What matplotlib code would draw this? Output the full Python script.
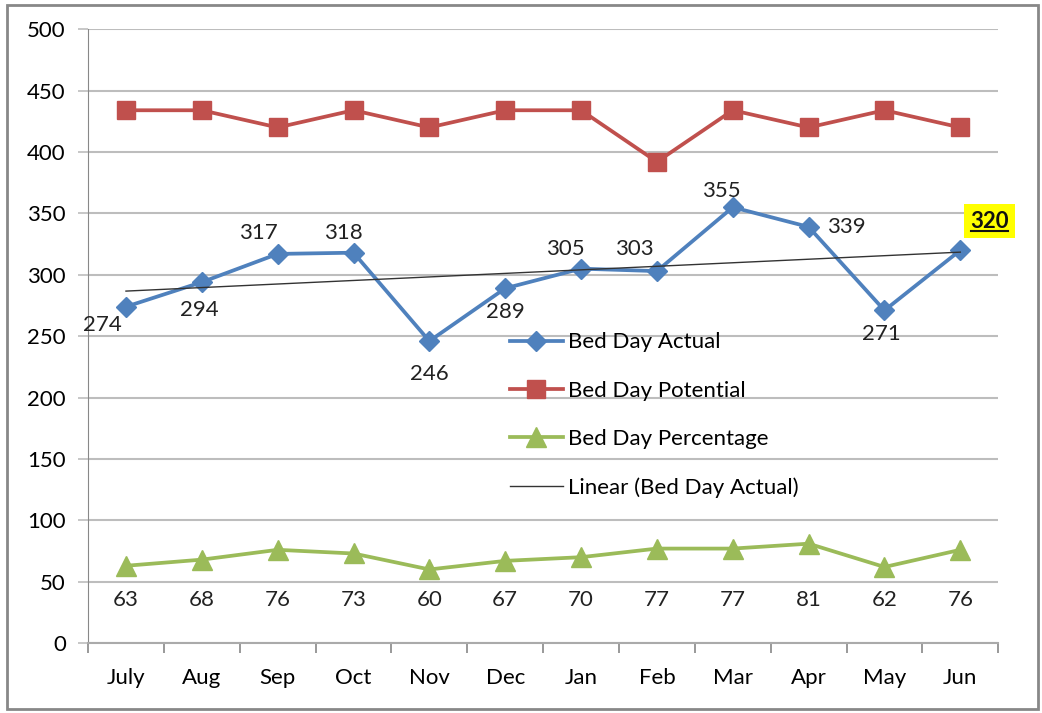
import numpy as np
import matplotlib
matplotlib.use("Agg")
import matplotlib.pyplot as plt
from matplotlib.lines import Line2D
from matplotlib.patches import Rectangle

plt.rcParams["font.family"] = ["Lato", "DejaVu Sans"]

months = ["July", "Aug", "Sep", "Oct", "Nov", "Dec",
          "Jan", "Feb", "Mar", "Apr", "May", "Jun"]
actual = [274, 294, 317, 318, 246, 289, 305, 303, 355, 339, 271, 320]
potential = [434, 434, 420, 434, 420, 434, 434, 392, 434, 420, 434, 420]
percentage = [63, 68, 76, 73, 60, 67, 70, 77, 77, 81, 62, 76]

# label offsets (points) for the actual series
actual_offsets = [(-17, -13), (-2, -20), (-14, 15), (-7, 14), (0, -24), (0, -17),
                  (-11, 14), (-16, 16), (-8, 12), (27, 0), (-2, -17), (21, 21)]

BLUE = "#4F81BD"
RED = "#C0504D"
GREEN = "#9BBB59"
GRID = "#BDBDBD"
FS = 16

fig = plt.figure(figsize=(10.42, 7.13), dpi=100)
ax = fig.add_axes([0.0845, 0.098, 0.8735, 0.861])

x = np.arange(len(months))

ax.plot(x, actual, color=BLUE, lw=2.7, marker="D", ms=10, label="Bed Day Actual", zorder=4)
ax.plot(x, potential, color=RED, lw=2.7, marker="s", ms=13, label="Bed Day Potential", zorder=4)
ax.plot(x, percentage, color=GREEN, lw=2.7, marker="^", ms=14, label="Bed Day Percentage", zorder=4)

# linear trend of actual
k, b = np.polyfit(x, actual, 1)
ax.plot(x, k * x + b, color="#333333", lw=1.0, label="Linear (Bed Day Actual)", zorder=5)

for i, v in enumerate(actual[:-1]):
    ax.annotate(str(v), (i, v), xytext=actual_offsets[i], textcoords="offset points",
                ha="center", va="center", fontsize=FS, color="#222222", zorder=6)

last = len(actual) - 1
t = ax.annotate(str(actual[last]), (last, actual[last]), xytext=actual_offsets[last],
                textcoords="offset points", ha="center", va="center", fontsize=FS,
                fontweight="bold", color="#111111", zorder=6,
                bbox=dict(boxstyle="square,pad=0.3", fc="#FFFF00", ec="none"))

for i, v in enumerate(percentage):
    ax.text(i, 35, str(v), ha="center", va="center", fontsize=FS, color="#222222")

ax.set_xlim(-0.5, len(months) - 0.5)
ax.set_ylim(0, 500)
ax.set_yticks(np.arange(0, 501, 50))
ax.set_xticks(x)
ax.set_xticklabels(months)
ax.set_xticks(np.arange(-0.5, len(months), 1), minor=True)
ax.tick_params(axis="x", which="major", length=0, pad=18, labelsize=FS)
ax.tick_params(axis="x", which="minor", length=7, width=1.2, color="#888888", direction="out")
ax.tick_params(axis="y", length=7, width=1.2, color=GRID, labelsize=FS, pad=9)
ax.yaxis.grid(True, color=GRID, lw=1.5)
ax.set_axisbelow(True)
for s in ["top", "right"]:
    ax.spines[s].set_visible(False)
ax.spines["left"].set_color("#888888")
ax.spines["bottom"].set_color("#AAAAAA")
ax.spines["bottom"].set_linewidth(1.5)

ax.legend(loc="upper left", bbox_to_anchor=(0.470, 0.562), bbox_transform=fig.transFigure,
          frameon=False, fontsize=FS, handlelength=2.4, labelspacing=1.27, handletextpad=0.2)

# frame around the picture
fig.add_artist(Rectangle((7 / 1042, 4 / 713), 1031 / 1042, 704 / 713, transform=fig.transFigure,
                         fill=False, ec="#888888", lw=2))

# underline for the highlighted last value
fig.canvas.draw()
bb = t.get_window_extent()
fig.add_artist(Line2D([bb.x0 + 1, bb.x1 - 1], [bb.y0 + 1, bb.y0 + 1], transform=None,
                      color="#111111", lw=1.5, zorder=7))

fig.savefig("out.png", dpi=100)
